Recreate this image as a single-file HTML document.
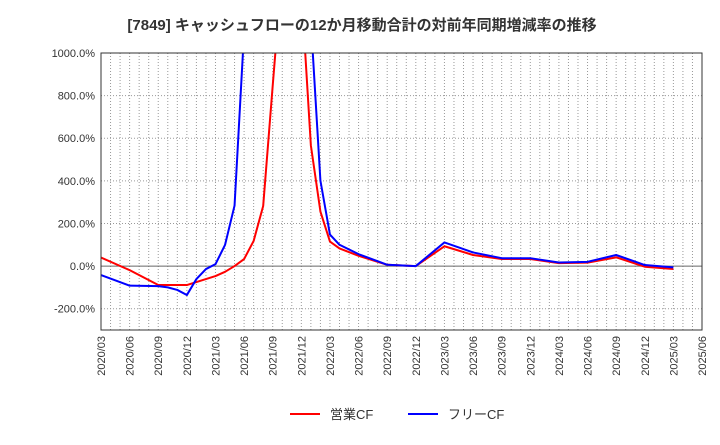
<!DOCTYPE html>
<html><head><meta charset="utf-8"><style>
body{margin:0;background:#fff;}
svg text{font-family:"Liberation Sans","Noto Sans CJK JP",sans-serif;}
</style></head><body>
<svg width="720" height="440">
<text x="362" y="30" text-anchor="middle" font-size="15" font-weight="bold" fill="#333">[7849]  キャッシュフローの12か月移動合計の対前年同期増減率の推移</text>
<defs><clipPath id="pc"><rect x="101" y="53" width="601" height="277"/></clipPath></defs>
<rect x="101" y="53" width="601" height="277" fill="#fff"/>
<g id="grid"></g>
<g id="ylab"></g>
<g id="xlab"></g>
<g id="series" clip-path="url(#pc)"></g>
<rect x="101" y="53" width="601" height="277" fill="none" stroke="#333" stroke-width="1"/>
<g>
<line x1="290" y1="414" x2="320" y2="414" stroke="#f00" stroke-width="2"/>
<text x="330" y="419" font-size="13" fill="#333">営業CF</text>
<line x1="408" y1="414" x2="438" y2="414" stroke="#00f" stroke-width="2"/>
<text x="448" y="419" font-size="13" fill="#333">フリーCF</text>
</g>
</svg>
<script>
const yTicks=[-200,0,200,400,600,800,1000];
const xTickLabels=["2020/03","2020/06","2020/09","2020/12","2021/03","2021/06","2021/09","2021/12","2022/03","2022/06","2022/09","2022/12","2023/03","2023/06","2023/09","2023/12","2024/03","2024/06","2024/09","2024/12","2025/03","2025/06"];
const redMonths=[0,3,6,9,12,13,14,15,16,17,18,19,20,21,22,23,24,25,27,30,33,36,39,42,45,48,51,54,57,60];
const redValues=[40,-19,-89,-89,-47,-27,0,33,118,282,847,1400,1600,1300,566,256,115,83,48,6,0,93,52,33,33,14,16,41,-3,-14];
const blueMonths=[0,3,6,7,8,9,10,11,12,13,14,15,16,20,21,22,23,24,25,27,30,33,36,39,42,45,48,51,54,57,60];
const blueValues=[-42,-92,-94,-100,-112,-136,-61,-14,9,99,284,1100,1600,1600,1400,1150,401,148,100,56,6,0,111,64,37,37,17,20,52,5,-6];
const X0=101,X1=702,Y0=330,Y1=53,YMIN=-300,YMAX=1000,MONTHS=63;
const xs=m=>X0+(X1-X0)*m/MONTHS;
const ys=v=>Y0-(Y0-Y1)*(v-YMIN)/(YMAX-YMIN);
const NS="http://www.w3.org/2000/svg";
const grid=document.getElementById('grid'),yl=document.getElementById('ylab'),xl=document.getElementById('xlab'),ser=document.getElementById('series');
function mk(t,a){const e=document.createElementNS(NS,t);for(const k in a)e.setAttribute(k,a[k]);return e;}
for(let m=1;m<MONTHS;m++){const l=mk('line',{x1:xs(m),x2:xs(m),y1:Y1,y2:Y0,stroke:'#999','stroke-dasharray':'1,2','stroke-width':1});

grid.appendChild(l);}
yTicks.forEach(v=>{const y=ys(v);
const l=mk('line',{x1:X0,x2:X1,y1:y,y2:y,stroke:v===0?'#666':'#999','stroke-dasharray':v===0?'none':'1,2','stroke-width':1});

grid.appendChild(l);
const t=mk('text',{x:X0-6,y:y+4,'text-anchor':'end','font-size':11,fill:'#333'});t.textContent=v.toFixed(1)+'%';

yl.appendChild(t);});
xTickLabels.forEach((s,i)=>{const x=xs(i*3);
const t=mk('text',{x:0,y:0,'text-anchor':'end','font-size':11,fill:'#333',transform:`translate(${x+4},${Y0+6}) rotate(-90)`});t.textContent=s;

xl.appendChild(t);});
function line(ms,vs,c,name){const p=mk('polyline',{points:ms.map((m,i)=>xs(m)+','+ys(vs[i])).join(' '),fill:'none',stroke:c,'stroke-width':2,'stroke-linejoin':'round'});

ser.appendChild(p);}
line(redMonths,redValues,'#f00','operating-cf-line');
line(blueMonths,blueValues,'#00f','free-cf-line');
</script>
</body></html>
